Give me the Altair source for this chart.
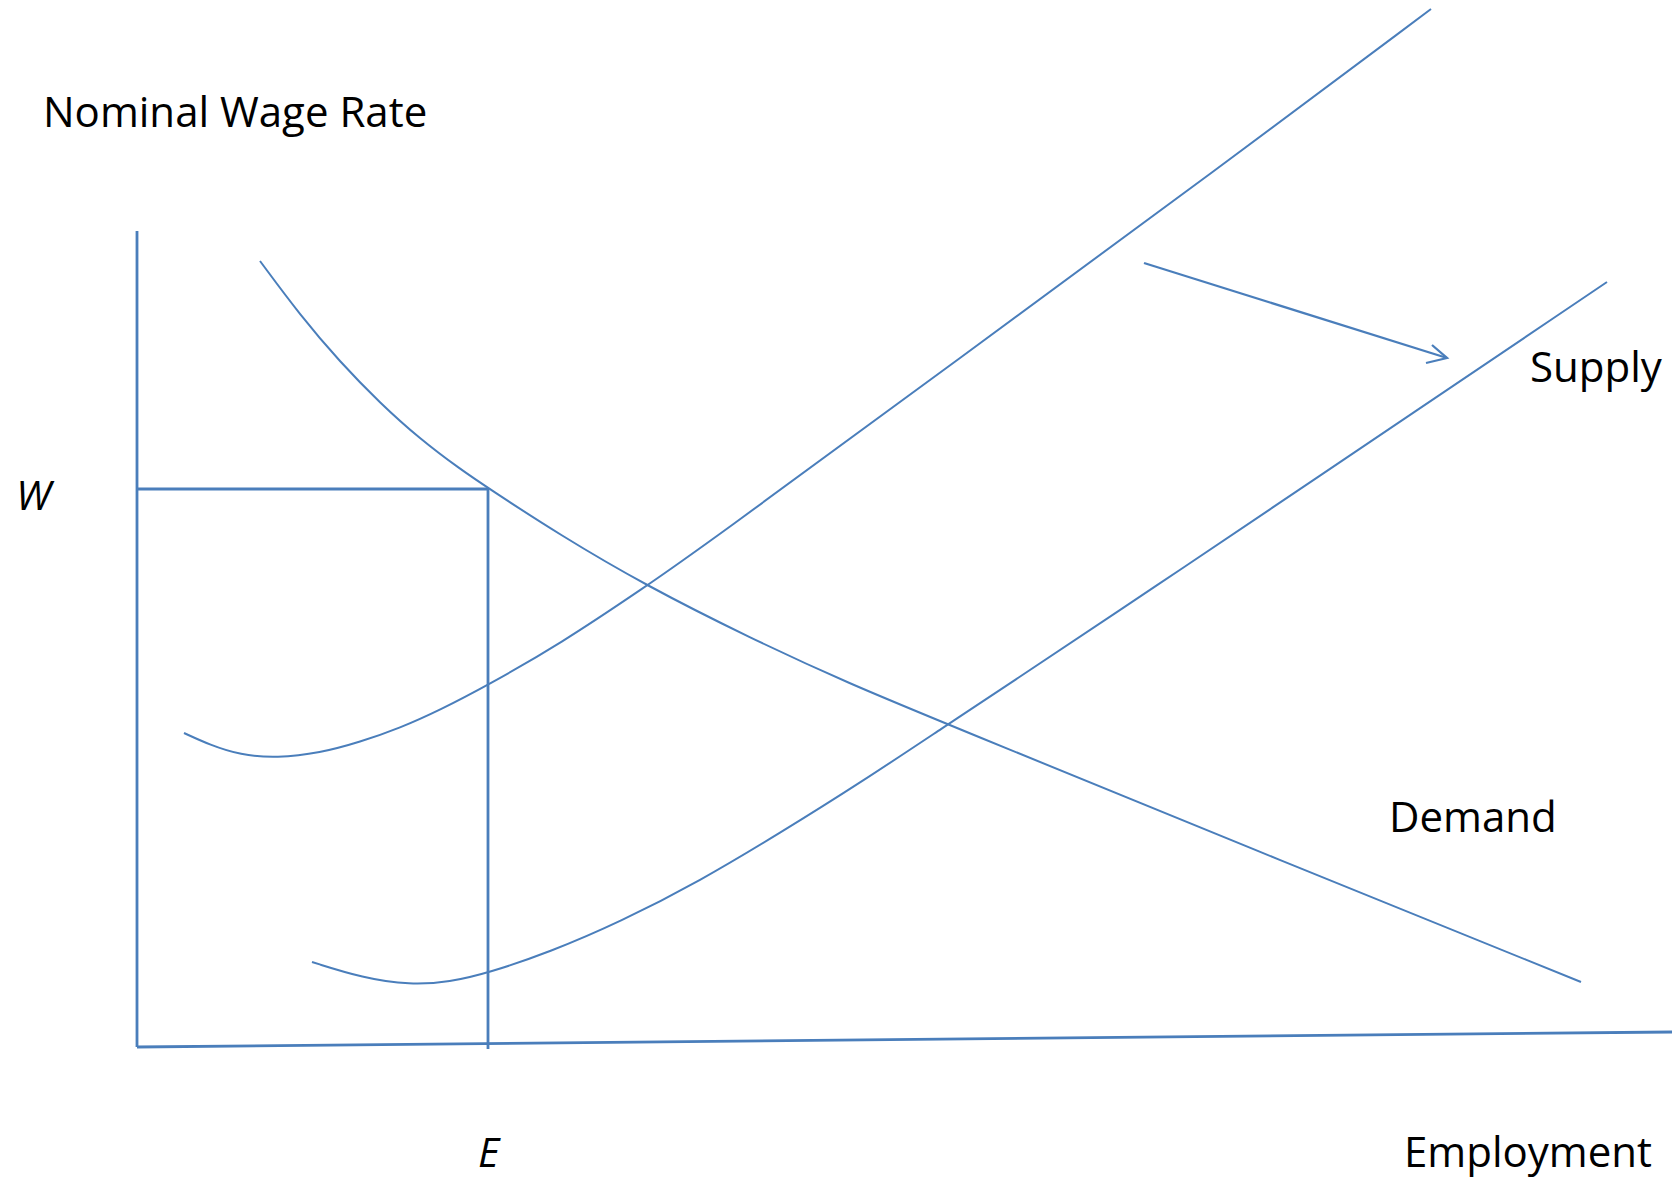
import altair as alt
import pandas as pd

# Diagram coordinates (horizontal = employment units, vertical = wage units),
# origin at the corner of the axes.
demand_x = [123, 163, 203, 243, 283, 323, 351, 423, 508, 613, 713, 810, 1113, 1444]
demand_y = [786, 732, 685, 644, 608, 578, 559, 512, 462, 409, 363, 323, 199, 65]

supply1_x = [47, 73, 103, 140, 183, 223, 263, 303, 351, 423, 508, 563, 823, 1083, 1294]
supply1_y = [314, 302, 292, 289, 294, 305, 319, 337, 362, 403, 460, 498, 689, 880, 1038]

supply2_x = [175, 226, 273, 313, 351, 413, 483, 563, 643, 723, 810, 863, 1028, 1150, 1470]
supply2_y = [85, 69, 62, 65, 74, 95, 125, 166, 214, 264, 322, 357, 467, 549, 765]

# straight segments: axes, W level, E level
seg_x0 = [0, 0, 0, 351]
seg_y0 = [816, 0, 558, 558]
seg_x1 = [0, 1535, 351, 351]
seg_y1 = [0, 15, 558, -2]

# shift arrow
arrow_shaft_x = [1007, 1310]
arrow_shaft_y = [784, 689]
arrow_head_x = [1295, 1310, 1289]
arrow_head_y = [702, 689, 684]

labels = ["Nominal Wage Rate", "W", "Supply", "Demand", "E", "Employment"]
label_x = [-94, -121, 1393, 1252, 341, 1267]
label_y = [920, 537, 665, 215, -120, -120]
label_italic = [False, True, False, False, True, False]

BLUE = "#4a7ebb"
xs = alt.Scale(domain=[-129, 1535], nice=False, zero=False)
ys = alt.Scale(domain=[-122, 1039], nice=False, zero=False)


def curve(xv, yv, name):
    df = pd.DataFrame({"x": xv, "y": yv, "i": range(len(xv)), "curve": name})
    return alt.Chart(df).mark_line(
        color=BLUE, strokeWidth=2, interpolate="basis"
    ).encode(
        x=alt.X("x:Q", scale=xs, axis=None),
        y=alt.Y("y:Q", scale=ys, axis=None),
        order="i:Q",
    )


segs = pd.DataFrame({"x0": seg_x0, "y0": seg_y0, "x1": seg_x1, "y1": seg_y1})
seg_layer = alt.Chart(segs).mark_rule(color=BLUE, strokeWidth=2.8).encode(
    x=alt.X("x0:Q", scale=xs, axis=None),
    y=alt.Y("y0:Q", scale=ys, axis=None),
    x2="x1:Q",
    y2="y1:Q",
)

shaft = pd.DataFrame({"x": arrow_shaft_x, "y": arrow_shaft_y, "i": [0, 1]})
shaft_layer = alt.Chart(shaft).mark_line(color=BLUE, strokeWidth=2.3).encode(
    x=alt.X("x:Q", scale=xs, axis=None),
    y=alt.Y("y:Q", scale=ys, axis=None),
    order="i:Q",
)
head = pd.DataFrame({"x": arrow_head_x, "y": arrow_head_y, "i": [0, 1, 2]})
head_layer = alt.Chart(head).mark_line(
    color=BLUE, strokeWidth=2.3, strokeJoin="miter"
).encode(
    x=alt.X("x:Q", scale=xs, axis=None),
    y=alt.Y("y:Q", scale=ys, axis=None),
    order="i:Q",
)

lab = pd.DataFrame({"t": labels, "x": label_x, "y": label_y, "it": label_italic})
text_normal = alt.Chart(lab[~lab["it"]]).mark_text(
    align="left", baseline="alphabetic", font="Open Sans", fontSize=42, color="black"
).encode(
    x=alt.X("x:Q", scale=xs, axis=None),
    y=alt.Y("y:Q", scale=ys, axis=None),
    text="t:N",
)
text_italic = alt.Chart(lab[lab["it"]]).mark_text(
    align="left", baseline="alphabetic", font="Open Sans", fontSize=41,
    fontStyle="italic", color="black"
).encode(
    x=alt.X("x:Q", scale=xs, axis=None),
    y=alt.Y("y:Q", scale=ys, axis=None),
    text="t:N",
)

chart = alt.layer(
    seg_layer,
    curve(demand_x, demand_y, "Demand"),
    curve(supply1_x, supply1_y, "Supply 1"),
    curve(supply2_x, supply2_y, "Supply 2"),
    shaft_layer,
    head_layer,
    text_normal,
    text_italic,
).properties(
    width=1664, height=1161,
    padding={"left": 0, "top": 0, "right": 0, "bottom": 30},
    autosize=alt.AutoSizeParams(type="none"),
).configure_view(strokeWidth=0)

chart.save("out.html", embed_options={"renderer": "svg", "actions": False})
